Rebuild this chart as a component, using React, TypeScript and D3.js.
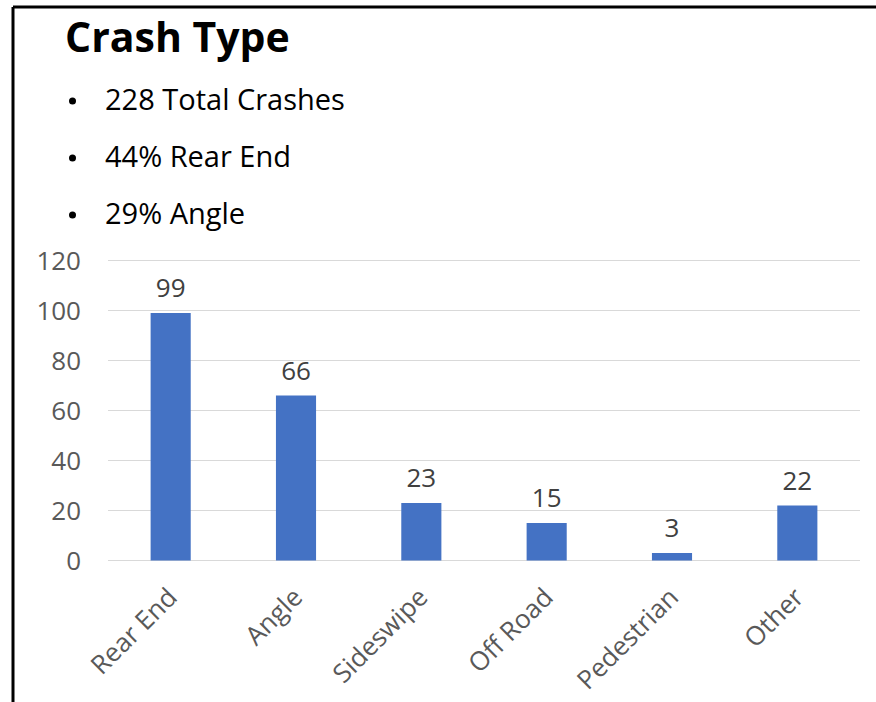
import React from "react";
import * as d3 from "d3";

const categories = ["Rear End", "Angle", "Sideswipe", "Off Road", "Pedestrian", "Other"];
const values = [99, 66, 23, 15, 3, 22];
const yTicks = [0, 20, 40, 60, 80, 100, 120];
const bullets = ["228 Total Crashes", "44% Rear End", "29% Angle"];
const title = "Crash Type";

export default function App() {
  const W = 876, H = 702;
  const left = 108, right = 860, top = 260.5, bottom = 560.5;
  const x = d3.scaleBand<string>().domain(categories).range([left, right]).paddingInner(0.68).paddingOuter(0.34);
  const y = d3.scaleLinear().domain([0, 120]).range([bottom, top]);
  const font = "'Open Sans', sans-serif";
  return (
    <svg width={W} height={H} style={{ position: "absolute", left: 0, top: 0 }}>
      <rect x={0} y={0} width={W} height={H} fill="#fff" />
      <line x1={13} x2={W} y1={7} y2={7} stroke="#000" strokeWidth={3} />
      <line x1={13} x2={13} y1={7} y2={H} stroke="#000" strokeWidth={3} />
      <text x={65} y={52} fontFamily={font} fontWeight={700} fontSize={41} fill="#000">{title}</text>
      {bullets.map((b, i) => (
        <g key={b}>
          <circle cx={72.5} cy={101 + i * 57} r={3.5} fill="#000" />
          <text x={105} y={110 + i * 57} fontFamily={font} fontSize={29} fill="#000">{b}</text>
        </g>
      ))}
      {yTicks.map((t) => (
        <g key={t}>
          <line x1={left} x2={right} y1={y(t)} y2={y(t)} stroke="#d9d9d9" strokeWidth={1} />
          <text x={81} y={y(t)} dy="0.35em" textAnchor="end" fontFamily={font} fontSize={26} fill="#595959">{t}</text>
        </g>
      ))}
      {categories.map((c, i) => {
        const bx = x(c)!;
        const cx = bx + x.bandwidth() / 2;
        return (
          <g key={c}>
            <rect x={bx} y={y(values[i])} width={x.bandwidth()} height={y(0) - y(values[i])} fill="#4472c4" />
            <text x={cx} y={y(values[i]) - 16} textAnchor="middle" fontFamily={font} fontSize={26} fill="#404040">{values[i]}</text>
            <text transform={`translate(${cx + 8},${599}) rotate(-45)`} textAnchor="end" fontFamily={font} fontSize={26} fill="#595959">{c}</text>
          </g>
        );
      })}
    </svg>
  );
}
